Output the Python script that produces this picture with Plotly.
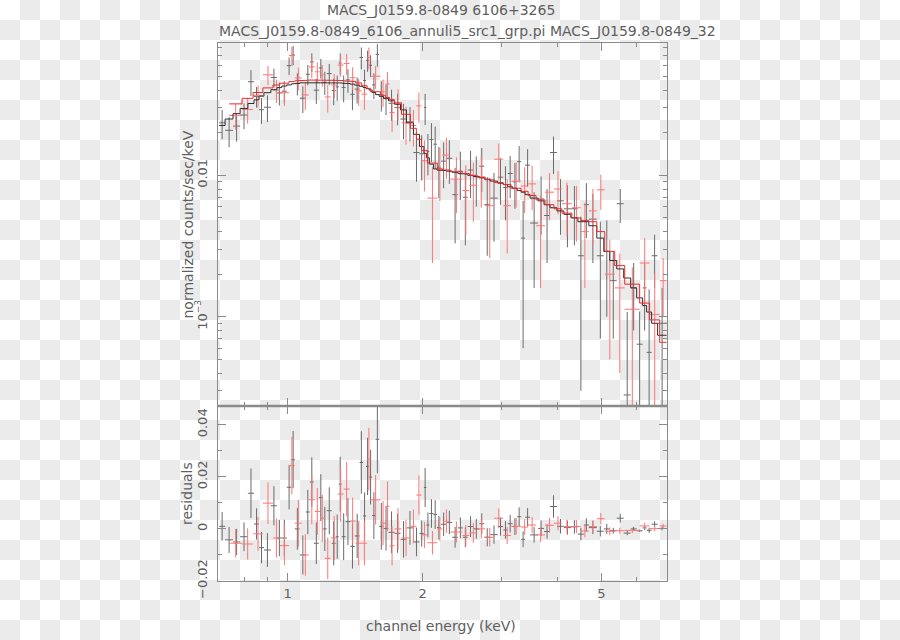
import base64
import numpy as np
import plotly.graph_objects as go

# ---------------- data ----------------
# data group 1 (black): channel-bin edges in keV, normalized counts/sec/keV, 1-sigma errors, folded model
black_edges = [0.704, 0.726, 0.756, 0.784, 0.816, 0.842, 0.864, 0.886, 0.918, 0.947,
               0.971, 0.996, 1.020, 1.038, 1.065, 1.098, 1.121, 1.144, 1.174, 1.198,
               1.223, 1.254, 1.280, 1.300, 1.320, 1.347, 1.379, 1.411, 1.447, 1.473,
               1.496, 1.519, 1.543, 1.571, 1.599, 1.636, 1.678, 1.731, 1.785, 1.840,
               1.907, 1.967, 2.012, 2.038, 2.070, 2.113, 2.151, 2.195, 2.258, 2.328,
               2.395, 2.457, 2.520, 2.592, 2.673, 2.742, 2.827, 2.938, 3.022, 3.092,
               3.172, 3.246, 3.313, 3.381, 3.469, 3.614, 3.726, 3.842, 3.981, 4.126,
               4.276, 4.432, 4.570, 4.688, 4.884, 5.062, 5.219, 5.409, 5.606, 5.810,
               5.991, 6.177, 6.305, 6.469, 6.670, 6.984]
black_rate = [0.0235, 0.0208, 0.0223, 0.0267, 0.0459, 0.0361, 0.0291, 0.0303, 0.0492, 0.0382,
              0.0393, 0.0596, 0.0709, 0.0447, 0.0351, 0.0518, 0.0634, 0.0400, 0.0575, 0.0455,
              0.0524, 0.0398, 0.0422, 0.0622, 0.0418, 0.0473, 0.0374, 0.0407, 0.0681, 0.0468,
              0.0650, 0.0600, 0.0436, 0.0716, 0.0372, 0.0352, 0.0323, 0.0301, 0.0250, 0.0239,
              0.0145, 0.0142, 0.0302, 0.0148, 0.0179, 0.0166, 0.0114, 0.0126, 0.0132, 0.0073,
              0.0107, 0.0070, 0.0109, 0.0098, 0.0116, 0.0062, 0.0069, 0.0097, 0.0082, 0.0103,
              0.0090, 0.0125, 0.0036, 0.0118, 0.0046, 0.0068, 0.0052, 0.0145, 0.0066, 0.0058,
              0.0058, 0.0027, 0.0062, 0.0049, 0.0027, 0.0029, 0.0018, 0.0063, 0.00028, 0.0016,
              0.00064, 0.0016, 0.00056, 0.0027, 0.0009]
black_err = [0.0055, 0.0050, 0.0050, 0.0055, 0.0095, 0.0060, 0.0060, 0.0065, 0.0075, 0.0070,
             0.0070, 0.0085, 0.0110, 0.0080, 0.0075, 0.0085, 0.0095, 0.0080, 0.0090, 0.0085,
             0.0090, 0.0085, 0.0085, 0.0105, 0.0090, 0.0090, 0.0085, 0.0085, 0.0120, 0.0090,
             0.0110, 0.0105, 0.0090, 0.0130, 0.0090, 0.0085, 0.0080, 0.0075, 0.0070, 0.0065,
             0.0055, 0.0050, 0.0075, 0.0048, 0.0055, 0.0055, 0.0045, 0.0045, 0.0045, 0.0040,
             0.0040, 0.0038, 0.0040, 0.0038, 0.0040, 0.0035, 0.0035, 0.0035, 0.0034, 0.0034,
             0.0032, 0.0036, 0.0030, 0.0035, 0.0030, 0.0030, 0.0028, 0.0043, 0.0028, 0.0027,
             0.0026, 0.0024, 0.0026, 0.0025, 0.0020, 0.0019, 0.0011, 0.0017, 0.0008, 0.0008,
             0.00045, 0.0008, 0.0010, 0.0011, 0.0007]
black_model = [0.0225, 0.0250, 0.0273, 0.0297, 0.0322, 0.0342, 0.0363, 0.0384, 0.0403, 0.0417,
               0.0428, 0.0436, 0.0443, 0.0447, 0.0451, 0.0453, 0.0454, 0.0455, 0.0455, 0.0455,
               0.0454, 0.0453, 0.0452, 0.0450, 0.0448, 0.0445, 0.0441, 0.0434, 0.0426, 0.0418,
               0.0410, 0.0401, 0.0385, 0.0372, 0.0362, 0.0350, 0.0336, 0.0318, 0.0290, 0.0235,
               0.0195, 0.0160, 0.0143, 0.0133, 0.0120, 0.0111, 0.0109, 0.0108, 0.0107, 0.0105,
               0.0103, 0.0102, 0.0100, 0.0098, 0.0096, 0.0094, 0.0091, 0.0088, 0.0086, 0.0083,
               0.0081, 0.0078, 0.0076, 0.0073, 0.0069, 0.0066, 0.0062, 0.0059, 0.0056, 0.0053,
               0.0050, 0.0047, 0.0047, 0.0044, 0.0036, 0.0029, 0.0025, 0.00218, 0.00188, 0.0016,
               0.00136, 0.0012, 0.00108, 0.0009, 0.00074]

# data group 2 (red)
red_edges = [0.741, 0.792, 0.838, 0.881, 0.928, 0.961, 1.007, 1.038, 1.076, 1.115,
             1.150, 1.180, 1.210, 1.248, 1.293, 1.333, 1.375, 1.418, 1.462, 1.504,
             1.531, 1.611, 1.653, 1.687, 1.731, 1.794, 1.878, 1.936, 1.987, 2.049,
             2.156, 2.212, 2.305, 2.450, 2.540, 2.646, 2.756, 2.886, 3.022, 3.147,
             3.313, 3.434, 3.577, 3.745, 3.921, 4.084, 4.298, 4.500, 4.688, 4.884,
             5.087, 5.355, 5.635, 6.084, 6.403, 6.742, 6.984]
red_rate = [0.0265, 0.0292, 0.0366, 0.0514, 0.0400, 0.0384, 0.0703, 0.0488, 0.0370, 0.0584,
            0.0539, 0.0513, 0.0358, 0.0435, 0.0602, 0.0618, 0.0490, 0.0395, 0.0375, 0.0680,
            0.0502, 0.0390, 0.0442, 0.0278, 0.0325, 0.0235, 0.0225, 0.0310, 0.0127, 0.0069,
            0.0111, 0.0139, 0.0094, 0.0078, 0.0085, 0.0097, 0.0061, 0.0130, 0.0061, 0.0091,
            0.0084, 0.0087, 0.0044, 0.0076, 0.0080, 0.0063, 0.0059, 0.0040, 0.0056, 0.0079,
            0.0020, 0.0016, 0.00113, 0.0024, 0.00104, 0.0018]
red_err = [0.0055, 0.0060, 0.0065, 0.0080, 0.0075, 0.0075, 0.0110, 0.0090, 0.0080, 0.0095,
           0.0090, 0.0090, 0.0080, 0.0085, 0.0105, 0.0105, 0.0090, 0.0085, 0.0085, 0.0120,
           0.0095, 0.0085, 0.0095, 0.0075, 0.0080, 0.0070, 0.0065, 0.0075, 0.0050, 0.0045,
           0.0045, 0.0045, 0.0040, 0.0040, 0.0038, 0.0038, 0.0035, 0.0038, 0.0033, 0.0032,
           0.0030, 0.0030, 0.0028, 0.0028, 0.0027, 0.0026, 0.0025, 0.0024, 0.0024, 0.0022,
           0.0015, 0.0012, 0.0011, 0.0012, 0.0010, 0.0008]
red_model = [0.0320, 0.0350, 0.0385, 0.0415, 0.0435, 0.0448, 0.0460, 0.0466, 0.0470, 0.0472,
             0.0472, 0.0472, 0.0471, 0.0470, 0.0468, 0.0465, 0.0460, 0.0450, 0.0430, 0.0412,
             0.0390, 0.0368, 0.0355, 0.0343, 0.0325, 0.0270, 0.0215, 0.0180, 0.0150, 0.0122,
             0.0111, 0.0109, 0.0106, 0.0103, 0.0100, 0.0097, 0.0093, 0.0089, 0.0086, 0.0081,
             0.0077, 0.0072, 0.0067, 0.0062, 0.0058, 0.0054, 0.0050, 0.0048, 0.0047, 0.0040,
             0.0029, 0.0023, 0.0017, 0.00125, 0.00095, 0.00066]

energy_range = [0.7, 7.0]
rate_range = [2.34e-4, 0.0862]
resid_range = [-0.02, 0.0472]

energy_ticks = [1, 2, 5]
energy_minor = [0.8, 0.9, 3, 4, 6]
rate_ticks = [1e-3, 1e-2]
rate_ticktext = ["10<sup>−3</sup>", "0.01"]
rate_minor = [3e-4, 4e-4, 5e-4, 6e-4, 7e-4, 8e-4, 9e-4,
              2e-3, 3e-3, 4e-3, 5e-3, 6e-3, 7e-3, 8e-3, 9e-3,
              2e-2, 3e-2, 4e-2, 5e-2, 6e-2, 7e-2, 8e-2]
resid_ticks = [-0.02, 0, 0.02, 0.04]
resid_ticktext = ["−0.02", "0", "0.02", "0.04"]
resid_minor = [-0.01, 0.01, 0.03]

title_line1 = "MACS_J0159.8-0849 6106+3265"
title_line2 = "MACS_J0159.8-0849_6106_annuli5_src1_grp.pi MACS_J0159.8-0849_32"
ytitle_top = "normalized counts/sec/keV"
ytitle_bottom = "residuals"
xtitle = "channel energy (keV)"

# ---------------- styling ----------------
AXIS = "#8a8a8a"
TXT = "#5e5e5e"
FONT = "DejaVu Sans"
BLACK_DATA = "#6a6a6a"
BLACK_MODEL = "#2e2e2e"
RED_DATA = "#ff7474"
RED_MODEL = "#ee2a2a"

W, H = 900, 640
ML, MR, MT, MB = 218, 233, 43, 59
PW, PH = W - ML - MR, H - MT - MB
split = 175 / PH

fig = go.Figure()


def add_group(edges, rate, err, model, dcol, mcol):
    e = np.array(edges, dtype=float)
    lo, hi = e[:-1], e[1:]
    c = 0.5 * (lo + hi)
    r = np.array(rate, dtype=float)
    m = np.array(model, dtype=float)
    ex = dict(type="data", symmetric=False, array=hi - c, arrayminus=c - lo,
              color=dcol, thickness=1, width=0)
    ey = dict(type="data", array=list(err), color=dcol, thickness=1, width=0)
    inv = dict(size=1, color="rgba(0,0,0,0)")
    fig.add_trace(go.Scatter(x=c, y=r, mode="markers", marker=inv, error_x=ex, error_y=ey,
                             xaxis="x", yaxis="y", showlegend=False, hoverinfo="skip"))
    fig.add_trace(go.Scatter(x=c, y=r - m, mode="markers", marker=inv, error_x=ex, error_y=ey,
                             xaxis="x2", yaxis="y2", showlegend=False, hoverinfo="skip"))
    sx, sy = [], []
    for a, b, v in zip(lo, hi, m):
        sx += [a, b]
        sy += [v, v]
    return sx, sy, mcol


steps = [add_group(black_edges, black_rate, black_err, black_model, BLACK_DATA, BLACK_MODEL),
         add_group(red_edges, red_rate, red_err, red_model, RED_DATA, RED_MODEL)]
for sx, sy, col in steps:
    fig.add_trace(go.Scatter(x=sx, y=sy, mode="lines", line=dict(color=col, width=1),
                             xaxis="x", yaxis="y", showlegend=False, hoverinfo="skip"))


def ax_common():
    return dict(showline=True, linecolor=AXIS, linewidth=1, mirror="ticks", ticks="inside",
                tickcolor=AXIS, tickwidth=1, ticklen=8, showgrid=False, zeroline=False,
                tickfont=dict(family=FONT, size=13, color=TXT))


xa = ax_common()
xa.update(type="log", range=[np.log10(energy_range[0]), np.log10(energy_range[1])],
          tickmode="array", tickvals=energy_ticks, ticktext=[str(v) for v in energy_ticks],
          minor=dict(tickmode="array", tickvals=energy_minor, ticks="inside", ticklen=4,
                     tickcolor=AXIS, showgrid=False))
xa1 = dict(xa, domain=[0, 1], anchor="y", showticklabels=False)
xa2 = dict(xa, domain=[0, 1], anchor="y2", matches="x", showticklabels=True)

ya1 = ax_common()
ya1.update(type="log", range=[np.log10(rate_range[0]), np.log10(rate_range[1])],
           domain=[split, 1], anchor="x", tickmode="array", tickvals=rate_ticks,
           ticktext=rate_ticktext, tickangle=-90, ticklabelstandoff=5,
           minor=dict(tickmode="array", tickvals=rate_minor, ticks="inside", ticklen=4,
                      tickcolor=AXIS, showgrid=False))
ya2 = ax_common()
ya2.update(range=resid_range, domain=[0, split], anchor="x2", tickmode="array",
           tickvals=resid_ticks, ticktext=resid_ticktext, tickangle=-90, ticklabelstandoff=5,
           minor=dict(tickmode="array", tickvals=resid_minor, ticks="inside", ticklen=4,
                      tickcolor=AXIS, showgrid=False))

# transparent-background checkerboard as in the reference picture
svg = ("<svg xmlns='http://www.w3.org/2000/svg' width='%d' height='%d'>"
       "<defs><pattern id='p' width='40' height='40' patternUnits='userSpaceOnUse'>"
       "<rect x='0' y='0' width='40' height='40' fill='#ffffff'/>"
       "<rect x='20' y='0' width='20' height='20' fill='#ebebeb'/>"
       "<rect x='0' y='20' width='20' height='20' fill='#ebebeb'/></pattern></defs>"
       "<rect width='%d' height='%d' fill='url(#p)'/></svg>") % (W, H, W, H)
src = "data:image/svg+xml;base64," + base64.b64encode(svg.encode()).decode()


def px(xp):
    return (xp - ML) / PW


def py(yp):
    return 1 - (yp - MT) / PH


title_font = dict(family=FONT, size=14, color=TXT)
label_font = dict(family=FONT, size=14, color=TXT)
annotations = [
    dict(text=title_line1, x=px(441), y=py(10), xref="paper", yref="paper",
         xanchor="center", yanchor="middle", showarrow=False, font=title_font),
    dict(text=title_line2, x=px(217), y=py(31), xref="paper", yref="paper",
         xanchor="left", yanchor="middle", showarrow=False, font=title_font),
    dict(text=ytitle_top, x=px(187), y=py(224.5), xref="paper", yref="paper",
         xanchor="center", yanchor="middle", textangle=-90, showarrow=False, font=label_font),
    dict(text=ytitle_bottom, x=px(187), y=py(494), xref="paper", yref="paper",
         xanchor="center", yanchor="middle", textangle=-90, showarrow=False, font=label_font),
    dict(text=xtitle, x=px(441), y=py(626), xref="paper", yref="paper",
         xanchor="center", yanchor="middle", showarrow=False, font=label_font),
]

fig.update_layout(
    width=W, height=H, margin=dict(l=ML, r=MR, t=MT, b=MB, pad=0),
    paper_bgcolor="white", plot_bgcolor="rgba(0,0,0,0)", showlegend=False,
    font=dict(family=FONT, size=13, color=TXT),
    xaxis=xa1, xaxis2=xa2, yaxis=ya1, yaxis2=ya2,
    annotations=annotations,
    images=[dict(source=src, xref="paper", yref="paper", x=-ML / PW, y=1 + MT / PH,
                 sizex=W / PW, sizey=H / PH, xanchor="left", yanchor="top",
                 sizing="stretch", layer="below")],
    shapes=[dict(type="line", xref="paper", yref="paper", x0=0, x1=1, y0=split, y1=split,
                 line=dict(color=AXIS, width=2.5))],
)

# remove the browser's default page margin so the 900x640 figure fills the window exactly
fig.write_html("out.html", config={"displayModeBar": False},
               post_script="document.body.style.margin='0';document.body.style.padding='0';"
                           "document.body.style.overflow='hidden';")
